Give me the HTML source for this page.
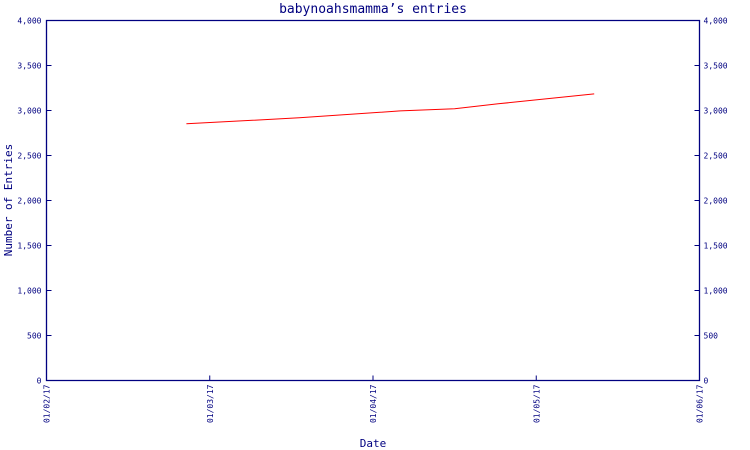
<!DOCTYPE html>
<html><head><meta charset="utf-8"><style>
body{margin:0;background:#fff}
svg{display:block;font-family:"DejaVu Sans Mono","Liberation Mono",monospace}
</style></head><body>
<svg id="chart" width="750" height="450">
<text x="373" y="13" font-size="13" fill="#000080" text-anchor="middle">babynoahsmamma’s entries</text>
<text x="12" y="200" font-size="11" fill="#000080" text-anchor="middle" transform="rotate(-90 12 200)">Number of Entries</text>
<text x="373" y="447" font-size="11" fill="#000080" text-anchor="middle">Date</text>
<g id="axes"></g>
<polyline id="line" fill="none" stroke="#ff0000" stroke-width="1"></polyline>
</svg>
<script>
const monthLabels = ["01/02/17","01/03/17","01/04/17","01/05/17","01/06/17"];
const yTicks = [0,500,1000,1500,2000,2500,3000,3500,4000];
const dates = ["2017-02-25","2017-03-18","2017-04-06","2017-04-16","2017-04-24","2017-05-12"];
const entries = [2852,2919,2995,3019,3074,3185];

const X0=46.5,X1=699.5,Y0=380.5,Y1=20.5,YMAX=4000;
const ns="http://www.w3.org/2000/svg";
function xs(m){return X0+(X1-X0)*m/(monthLabels.length-1);}
function ys(v){return Y0-(Y0-Y1)*v/YMAX;}
function monthPos(ds){const d=new Date(ds+"T00:00:00Z");const m=d.getUTCMonth()-1;const dim=new Date(Date.UTC(2017,d.getUTCMonth()+1,0)).getUTCDate();return m+(d.getUTCDate()-1)/dim;}
const g=document.getElementById('axes');
function el(t,a){const e=document.createElementNS(ns,t);for(const k in a)e.setAttribute(k,a[k]);g.appendChild(e);return e;}
const frame=el('path',{d:`M${X0} ${Y1}H${X1}V${Y0}H${X0}Z`,fill:'none',stroke:'#000080','stroke-width':1.3});


yTicks.forEach(v=>{
  const y=ys(v);
  el('line',{x1:X0,x2:X0+5,y1:y,y2:y,stroke:'#000080'});
  el('line',{x1:X1-5,x2:X1,y1:y,y2:y,stroke:'#000080'});
  const lab=v.toLocaleString('en-US');
  const t1=el('text',{x:X0-5,y:y+3,'font-size':8,fill:'#000080','text-anchor':'end'});t1.textContent=lab;
  
  
  const t2=el('text',{x:X1+4,y:y+3,'font-size':8,fill:'#000080'});t2.textContent=lab;
  
  
});
monthLabels.forEach((l,i)=>{
  const x=xs(i);
  el('line',{x1:x,x2:x,y1:Y0,y2:Y0-5,stroke:'#000080'});
  const t=el('text',{x:x+3,y:Y0+4,'font-size':8,fill:'#000080','text-anchor':'end',transform:`rotate(-90 ${x+3} ${Y0+4})`});
  t.textContent=l;
  
  
});
document.getElementById('line').setAttribute('points',dates.map((d,i)=>xs(monthPos(d)).toFixed(1)+','+ys(entries[i]).toFixed(1)).join(' '));
</script>
</body></html>
